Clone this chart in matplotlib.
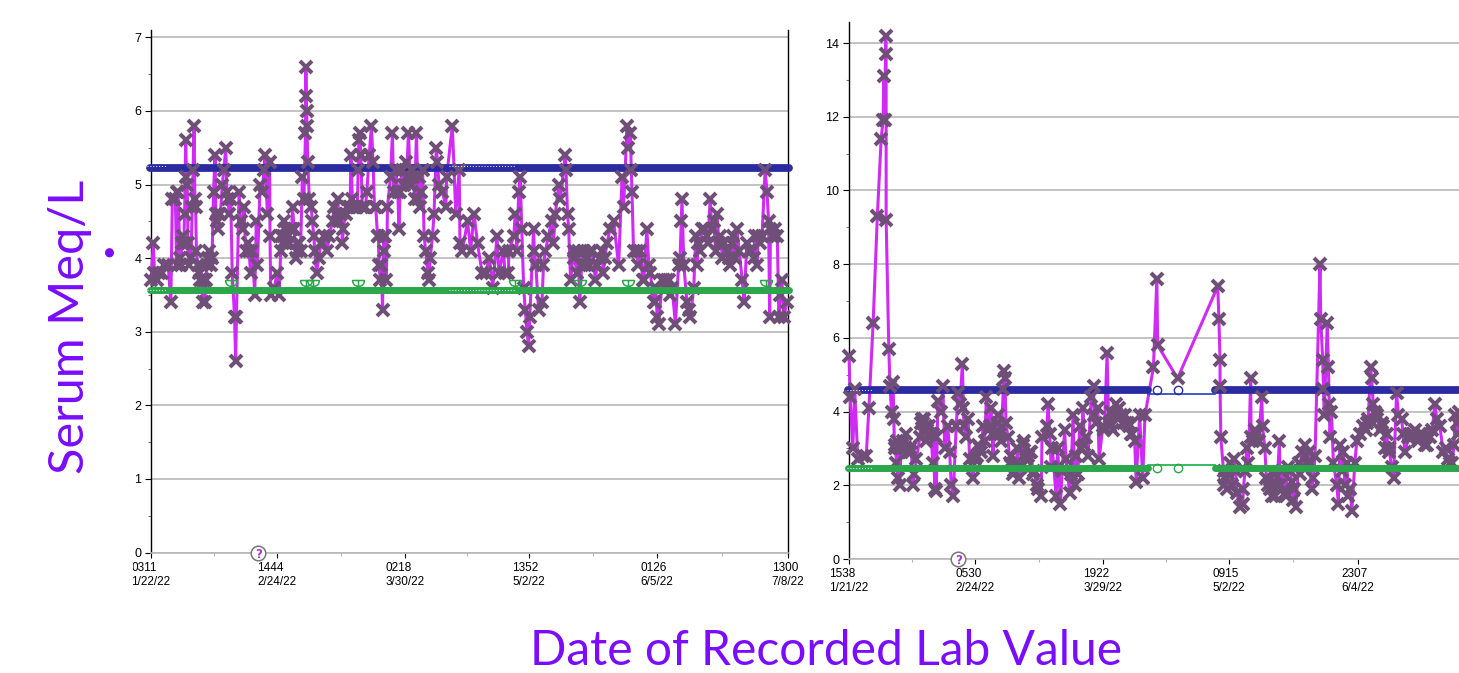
import matplotlib
matplotlib.use("Agg")
import matplotlib.pyplot as plt
from matplotlib.path import Path
from matplotlib.transforms import Bbox

W, H = 1459, 673

# left chart: days since first reading, serum value
left_days = [
    0, 0.6, 0.9, 1.5, 2.2, 3, 3.5, 4.5, 5.2, 5.6,
    6.4, 6.7, 6.9, 7.1, 7.6, 7.9, 8, 8.3, 8.6, 8.8,
    9.1, 9.3, 9.5, 9.7, 10, 10.5, 10.8, 11, 11.3, 11.5,
    11.7, 11.9, 12.2, 12.6, 13, 13.3, 13.6, 13.9, 14.1, 14.4,
    14.7, 15, 15.3, 15.6, 16, 16.4, 16.8, 17, 17.2, 17.5,
    17.8, 18.2, 18.7, 19.1, 19.6, 19.9, 20.2, 20.5, 20.9, 21.3,
    21.9, 22.2, 22.4, 23.1, 23.5, 24, 24.4, 24.8, 25.3, 25.7,
    26.1, 26.6, 27.2, 27.6, 27.9, 28.6, 29.2, 29.6, 29.9, 30.5,
    31.1, 31.2, 31.4, 32.3, 33.1, 33.6, 34, 34.5, 34.9, 35.3,
    35.7, 36.6, 37.1, 37.5, 37.9, 38.8, 39.2, 39.7, 40.1, 40.5,
    40.6, 40.7, 40.8, 40.9, 41.1, 41.5, 42, 42.3, 42.7, 42.9,
    43.4, 44, 44.5, 45.3, 46.2, 46.7, 47.6, 48.1, 48.9, 49.4,
    50.2, 50.4, 51, 51.5, 52.4, 52.8, 54.1, 54.3, 54.5, 54.7,
    55, 55.9, 56.6, 57.2, 57.8, 58.2, 58.6, 59.4, 59.8, 60.1,
    60.7, 61.1, 61.4, 62, 62.8, 63.3, 63.6, 64.2, 65, 65.9,
    66.8, 67.5, 68, 68.5, 69.1, 69.6, 70.2, 70.7, 71.2, 71.6,
    72, 72.6, 72.9, 73.2, 73.8, 74.2, 74.8, 75.1, 75.5, 76.4,
    77.3, 77.5, 79, 79.9, 80.8, 81, 81.6, 83, 83.8, 84.7,
    85.6, 86.8, 87.7, 88.7, 89.6, 90.7, 91.2, 92.4, 92.8, 93.7,
    93.8, 95.1, 95.5, 95.9, 96.4, 96.8, 97.2, 97.7, 98.1, 98.6,
    99, 99.3, 100.3, 100.5, 100.9, 101.6, 102.5, 102.9, 103.4, 104.2,
    105, 105.5, 106, 106.9, 107.3, 108.6, 108.8, 109.2, 109.5, 110,
    110.8, 111.7, 112.4, 113.4, 113.8, 115.2, 116.5, 117.8, 118.6, 119.5,
    120.4, 121.3, 122.6, 123.5, 123.9, 124.8, 125, 125.7, 125.9, 126.1,
    126.5, 127.4, 127.7, 128.3, 129.2, 130, 130.5, 131.8, 132.2, 132.7,
    133.1, 134, 135.3, 136.1, 137.5, 138.3, 138.7, 139, 139.2, 139.7,
    140.5, 141, 141.4, 142.3, 143.1, 144, 144.4, 145.8, 146.6, 147.5,
    148.4, 149.3, 151, 151.9, 152.7, 153.6, 155, 155.5, 156.7, 158,
    158.9, 159.7, 161, 161.5, 161.9, 162.2, 162.8, 163.7, 164.6, 165.4,
    165.9, 166.7,
]
left_vals = [
    3.7, 4.2, 3.8, 3.7, 3.8, 3.8, 3.9, 3.9, 3.4, 4.8,
    4.8, 3.9, 4.9, 4.9, 4.0, 3.9, 4.2, 4.3, 4.2, 4.6,
    5.6, 5.1, 5.0, 4.2, 3.9, 4.0, 4.7, 5.2, 5.8, 4.8,
    4.7, 4.1, 3.9, 3.8, 3.9, 3.7, 3.4, 3.7, 3.4, 3.7,
    3.9, 4.0, 4.1, 3.9, 4.0, 4.9, 5.4, 4.6, 4.5, 4.4,
    4.6, 4.6, 5.0, 5.2, 5.5, 4.9, 4.8, 4.6, 4.8, 3.8,
    3.2, 2.6, 3.2, 4.9, 4.5, 4.4, 4.7, 4.1, 4.2, 4.1,
    3.8, 4.1, 3.5, 4.5, 3.9, 5.0, 4.9, 5.2, 5.4, 4.6,
    5.3, 4.3, 3.5, 3.6, 3.8, 3.5, 4.1, 4.3, 4.5, 4.3,
    4.2, 4.4, 4.7, 4.4, 4.0, 4.2, 4.1, 5.1, 4.8, 5.7,
    6.6, 6.2, 6.0, 5.8, 5.3, 4.8, 4.7, 4.5, 4.3, 4.1,
    3.8, 4.0, 4.2, 4.3, 4.1, 4.3, 4.5, 4.7, 4.8, 4.5,
    4.2, 4.4, 4.6, 4.7, 5.4, 4.8, 4.7, 5.2, 5.6, 5.7,
    5.4, 4.7, 4.9, 5.4, 5.8, 5.3, 4.7, 4.3, 3.9, 3.7,
    3.3, 4.1, 4.3, 4.7, 5.1, 5.7, 4.9, 5.2, 4.4, 5.2,
    5.3, 5.7, 5.0, 5.2, 4.8, 5.7, 5.1, 4.9, 5.2, 4.3,
    4.1, 3.8, 3.7, 4.0, 4.3, 4.6, 5.5, 5.3, 5.0, 4.9,
    4.7, 5.1, 5.8, 4.6, 5.2, 4.2, 4.1, 4.5, 4.1, 4.6,
    4.2, 3.8, 3.8, 4.0, 3.6, 4.3, 3.8, 4.1, 3.8, 3.8,
    4.1, 4.3, 4.6, 4.1, 4.9, 5.1, 4.4, 3.6, 3.3, 3.0,
    2.8, 3.2, 4.4, 4.1, 3.9, 3.3, 3.4, 3.9, 4.1, 4.3,
    4.5, 4.2, 4.6, 5.0, 4.8, 5.4, 5.2, 4.6, 4.4, 3.7,
    4.1, 3.8, 3.4, 4.1, 3.9, 4.1, 3.7, 4.0, 3.8, 4.2,
    4.4, 4.5, 3.9, 5.1, 4.7, 5.8, 5.5, 5.7, 5.2, 4.9,
    4.1, 4.1, 3.9, 4.1, 3.7, 4.4, 3.9, 3.4, 3.4, 3.2,
    3.1, 3.7, 3.7, 3.5, 3.1, 3.9, 4.0, 4.5, 4.8, 3.9,
    3.4, 3.3, 3.2, 3.6, 3.9, 4.1, 4.4, 4.3, 4.8, 4.5,
    4.6, 4.3, 4.1, 3.9, 4.3, 4.4, 3.7, 3.4, 4.1, 4.0,
    3.9, 4.2, 5.2, 4.9, 4.5, 3.2, 4.3, 4.4, 3.2, 3.7,
    3.2, 3.4,
]
# readings inside the dense clumps of the left chart
left_dense_days = [
    34.2, 34.7, 35.1, 35.5, 36, 36.3, 36.9, 38.2, 38.5, 48.4,
    49.8, 51.9, 52.2, 53.3, 53.7, 55.4, 56.2, 58.9, 59.6, 60.4,
    61, 61.7, 64.7, 65.3, 66.2, 67, 68.2, 68.8, 70, 70.4,
    111, 112, 112.9, 114.2, 114.8, 115.7, 116.9, 118.2, 119, 128.9,
    130.9, 132.3, 134.5, 135, 135.8, 136.6, 142.8, 143.5, 145, 146,
    147, 148, 148.9, 149.8, 150.3, 151.5, 152.2, 153, 154.2, 156.2,
    157.2, 158.3, 159.2, 160.2, 162.4, 163.2, 164.2, 165, 12.9, 13.9,
]
left_dense_vals = [
    4.3, 4.2, 4.4, 4.2, 4.3, 4.2, 4.4, 4.1, 4.2, 4.6,
    4.6, 4.7, 4.7, 4.7, 4.7, 4.7, 4.7, 4.7, 4.3, 3.9,
    4.3, 3.7, 4.9, 4.9, 5.0, 5.1, 5.0, 5.1, 4.8, 4.7,
    4.0, 4.1, 3.9, 4.0, 3.9, 4.1, 3.9, 4.1, 4.0, 3.7,
    3.8, 3.6, 3.7, 3.6, 3.7, 3.6, 4.3, 4.2, 4.4, 4.2,
    4.4, 4.1, 4.2, 4.0, 4.2, 4.0, 4.2, 4.0, 4.1, 4.2,
    4.1, 4.3, 4.3, 4.3, 4.4, 4.3, 4.3, 3.5, 3.7, 3.7,
]

# right chart
right_days = [
    0, 0.3, 1, 1.5, 2.3, 3.6, 4.5, 5.2, 6.3, 7.4,
    8.4, 8.9, 9.1, 9.6, 9.7, 9.3, 9.7, 10.4, 10.7, 11.5,
    11.1, 11.7, 11.9, 12.4, 12.8, 13.2, 13.6, 14.5, 15, 15.4,
    16.3, 16.7, 17.1, 17.6, 18.5, 19, 19.3, 19.8, 20.2, 21,
    21.9, 22.4, 22.8, 23.2, 24, 24.5, 25, 25.8, 26.3, 26.7,
    27.2, 28, 28.5, 29, 29.6, 29.9, 30.6, 31.1, 31.5, 32.4,
    32.8, 34.1, 35, 35.9, 37.1, 37.6, 38.4, 38.9, 39.7, 40.5,
    40.7, 40.3, 41, 41.5, 42.4, 42.8, 43.7, 44.5, 45.4, 46.3,
    47.2, 48.4, 49, 49.3, 50.2, 50.4, 52, 51.7, 52.4, 52.8,
    54.1, 54.5, 55.2, 56.3, 56.7, 57.6, 58.5, 59.4, 59.8, 60.2,
    61.1, 61.5, 62.4, 63.3, 63.9, 64.6, 65.3, 66.3, 67.4, 68.1,
    68.9, 69.8, 71.1, 72.4, 73.7, 74.6, 75, 75.9, 76.7, 77.3,
    79.5, 80.4, 80.6, 85.8, 96.3, 96.6, 96.9, 96.9, 97.1, 97.8,
    98, 98.6, 99.5, 100.6, 101.3, 102.1, 102.8, 103, 103.4, 103.9,
    104.3, 104.9, 105.6, 106.5, 107.8, 108, 108.6, 109.5, 110.4, 111.3,
    112.4, 112.6, 113.9, 115.2, 116, 116.7, 117.4, 118.2, 119.1, 119.5,
    120.8, 121.3, 121.7, 123, 123.2, 123.7, 123.9, 124.1, 124.9, 125.2,
    125.4, 125.6, 126.5, 127.4, 127.8, 128.2, 129.1, 129.5, 130.4, 131.3,
    132.1, 132.6, 133.4, 134.3, 135.6, 136.2, 136.5, 136.9, 137.8, 139.1,
    140, 140.9, 141.7, 142.2, 143, 143.5, 144.3, 145.2, 146.1, 147.4,
    149.1, 150.4, 151.7, 153, 153.5, 154.3, 155.2, 157, 158.3, 159.1,
]
right_vals = [
    5.5, 4.4, 3.0, 4.6, 2.7, 2.8, 2.8, 4.1, 6.4, 9.3,
    11.4, 11.9, 13.1, 14.2, 13.7, 11.9, 9.2, 5.7, 4.7, 4.8,
    4.0, 3.8, 3.0, 2.6, 2.2, 2.0, 3.0, 3.0, 3.4, 2.9,
    2.9, 2.0, 2.3, 2.7, 3.3, 3.8, 3.7, 3.5, 3.2, 3.4,
    2.6, 1.9, 1.85, 4.3, 4.0, 4.7, 3.0, 3.6, 2.9, 2.0,
    1.7, 3.6, 4.5, 4.2, 5.3, 4.1, 3.3, 3.8, 2.7, 2.2,
    2.7, 3.0, 3.6, 4.4, 4.1, 2.8, 3.4, 3.9, 3.2, 5.1,
    4.9, 4.6, 3.7, 3.3, 2.8, 2.3, 2.6, 2.2, 3.1, 2.7,
    2.9, 2.4, 2.0, 1.9, 1.7, 3.3, 4.2, 3.6, 3.4, 2.5,
    1.7, 3.0, 1.5, 3.5, 2.7, 1.8, 3.9, 2.8, 2.3, 3.6,
    4.1, 3.1, 2.8, 4.4, 4.7, 3.7, 2.7, 3.6, 5.6, 3.6,
    3.5, 4.2, 3.9, 3.7, 3.4, 3.2, 2.1, 3.9, 2.2, 3.9,
    5.2, 7.6, 5.8, 4.9, 7.4, 6.5, 5.4, 4.7, 3.3, 2.4,
    2.0, 1.9, 2.6, 2.7, 1.8, 1.4, 1.5, 1.9, 2.4, 3.0,
    2.6, 4.9, 3.2, 3.4, 4.4, 3.6, 3.0, 2.0, 1.7, 1.7,
    3.2, 2.0, 1.8, 2.4, 1.6, 1.4, 2.6, 2.9, 3.1, 2.6,
    1.9, 2.2, 2.8, 8.0, 6.5, 5.4, 4.6, 3.9, 6.4, 5.2,
    4.2, 3.3, 2.6, 2.0, 1.5, 3.1, 2.9, 2.0, 1.7, 1.3,
    2.6, 3.2, 3.4, 3.6, 3.8, 5.2, 4.9, 4.2, 3.8, 3.7,
    3.0, 2.9, 2.5, 2.2, 4.5, 3.9, 3.8, 2.9, 3.3, 3.4,
    3.4, 3.1, 3.3, 4.2, 3.8, 3.6, 2.9, 2.6, 3.9, 3.4,
]
# readings inside the dense clumps of the right chart
right_dense_days = [
    12.1, 12.6, 13, 13.9, 14.2, 14.8, 15.7, 16, 18.8, 19.6,
    20, 20.5, 20.8, 21.4, 22, 22.6, 30, 33.3, 33.8, 34.6,
    35.4, 36.3, 36.7, 37.9, 39, 39.4, 42, 43, 44, 45,
    45.8, 46.7, 47.6, 48, 53.1, 55.7, 58, 59, 60.6, 62,
    64, 65, 66.7, 67.8, 68.5, 69.2, 70.2, 70.6, 71.5, 72,
    72.8, 73.2, 74, 98.3, 99, 100, 101, 105, 106, 107,
    109, 110, 110.9, 111.8, 113, 114, 114.6, 115.6, 116.3, 117.8,
    118.6, 120, 120.4, 126, 128.7, 130, 130.9, 134.9, 135.3, 137.3,
    138, 138.6, 139.5, 140.4, 141, 144.7, 146.6, 147, 147.8, 148.5,
    149.6, 150, 151, 152.3, 155.8, 156.4, 157.5, 158, 158.8, 159.2,
]
right_dense_vals = [
    3.1, 3.2, 3.0, 3.1, 3.2, 3.0, 2.9, 3.0, 3.7, 3.8,
    3.6, 3.5, 3.6, 3.4, 3.4, 3.3, 3.6, 2.8, 3.1, 2.9,
    3.2, 3.5, 3.6, 3.4, 3.7, 3.4, 2.6, 2.4, 3.0, 2.5,
    3.2, 2.8, 2.9, 2.3, 3.0, 2.4, 2.3, 2.0, 3.0, 3.3,
    3.9, 4.1, 3.5, 3.7, 4.0, 3.9, 3.8, 4.1, 3.7, 3.9,
    3.7, 3.6, 3.4, 2.2, 2.3, 2.0, 2.4, 3.3, 3.5, 3.2,
    2.2, 1.9, 2.3, 2.0, 2.4, 1.7, 2.5, 2.1, 1.9, 2.3,
    2.5, 2.9, 2.6, 4.0, 2.4, 2.6, 1.9, 3.5, 3.7, 4.0,
    3.9, 3.5, 3.6, 3.4, 3.0, 3.4, 3.4, 3.3, 3.5, 3.2,
    3.4, 3.3, 3.1, 3.5, 3.0, 2.7, 2.6, 3.1, 3.7, 4.0,
]

left_limits = (5.23, 3.57)
right_limits = (4.58, 2.46)
left_cup_days = [21, 40.6, 42.5, 54.3, 95.5, 112.5, 125, 161.2]

left_tick_days = [0, 33, 66.6, 99, 132.6, 167]
left_tick_labels = ["0311\n1/22/22", "1444\n2/24/22", "0218\n3/30/22", "1352\n5/2/22", "0126\n6/5/22", "1300\n7/8/22"]
right_tick_days = [0, 32.9, 66.3, 99.2, 132.9]
right_tick_labels = ["1538\n1/21/22", "0530\n2/24/22", "1922\n3/29/22", "0915\n5/2/22", "2307\n6/4/22"]

LINE = "#cf2bf5"
CROSS = "#6f4f77"
BLUE = "#2a2ba0"
GREEN = "#2ba64a"
GRID = "#b8b8b8"
TITLE = "#7a0cff"
BAND_BLUE = 5.6
BAND_GREEN = 5.0
CROSS_SIZE = 9.2
CROSS_WIDTH = 2.9


def merge(days, vals, more_days, more_vals):
    pairs = sorted(zip(days + more_days, vals + more_vals), key=lambda p: p[0])
    return [p[0] for p in pairs], [p[1] for p in pairs]


def make_axes(fig, x0, x1, ytop, ybot):
    ax = fig.add_axes([x0 / W, 1 - ybot / H, (x1 - x0) / W, (ybot - ytop) / H])
    ax.patch.set_alpha(0)
    return ax


def style_axes(ax, xmax, ymax, yticks, yminor, tick_days, tick_labels):
    ax.set_xlim(0, xmax)
    ax.set_ylim(0, ymax)
    ax.set_yticks(yticks)
    ax.set_yticks(yminor, minor=True)
    ax.set_xticks(tick_days)
    ax.set_xticklabels(tick_labels, fontsize=8.5, family="Liberation Sans", linespacing=1.25, multialignment="left")
    mids = [(a + b) / 2 for a, b in zip(tick_days[:-1], tick_days[1:])]
    ax.set_xticks(mids, minor=True)
    ax.tick_params(axis="y", which="major", length=4, width=0.8, labelsize=9, pad=3)
    ax.tick_params(axis="y", which="minor", length=2, width=0.8, color="#777777")
    ax.tick_params(axis="x", which="major", length=3.5, width=0.8, pad=3)
    ax.tick_params(axis="x", which="minor", length=2, width=0.8, color=GRID)
    for lab in ax.get_yticklabels():
        lab.set_family("Liberation Sans")
    ax.grid(axis="y", which="major", color=GRID, linewidth=1.2, zorder=0)
    ax.set_axisbelow(True)
    ax.spines["top"].set_visible(False)
    ax.spines["right"].set_visible(False)
    ax.spines["bottom"].set_color(GRID)
    ax.spines["bottom"].set_linewidth(1.2)
    ax.spines["left"].set_linewidth(1.0)


def question_mark(ax, day):
    ax.plot([day], [0], marker="o", ms=10.5, mfc="white", mec="#777777", mew=1.1, clip_on=False, zorder=8)
    ax.annotate("?", (day, 0), ha="center", va="center_baseline", fontsize=8.5, fontweight="bold",
                color="#a53cc8", family="DejaVu Sans", annotation_clip=False, zorder=9)


def draw_band(ax, x_pair, y, color, width, zorder):
    ax.plot(x_pair, [y, y], color=color, linewidth=width, solid_capstyle="round", zorder=zorder, clip_on=False)


plt.rcParams["font.family"] = "Liberation Sans"
fig = plt.figure(figsize=(W / 100, H / 100), dpi=100, facecolor="white")

# left panel
ax1 = make_axes(fig, 151, 788, 30, 552.5)
style_axes(ax1, 167, 7.1, list(range(8)), [i + 0.5 for i in range(7)], left_tick_days, left_tick_labels)
ax1.spines["right"].set_visible(True)
ax1.spines["right"].set_linewidth(1.0)
hi, lo = left_limits
x1, y1 = merge(left_days, left_vals, left_dense_days, left_dense_vals)
ax1.plot(x1, y1, color=LINE, linewidth=2.2, zorder=3, clip_on=False)
draw_band(ax1, [-0.3, 167.3], hi, BLUE, BAND_BLUE, 4)
ax1.plot(x1, y1, linestyle="none", marker="x", ms=CROSS_SIZE, mew=CROSS_WIDTH, color=CROSS, zorder=5, clip_on=False)
draw_band(ax1, [-0.3, 167.3], lo, GREEN, BAND_GREEN, 6)
for seg in ([-1.0, 4], [78, 95.5]):
    ax1.plot(seg, [hi + 0.02] * 2, color="white", linewidth=0.7, linestyle=(0, (1, 2)), zorder=7, clip_on=False)
    ax1.plot(seg, [lo] * 2, color="white", linewidth=0.7, linestyle=(0, (1, 2)), zorder=7, clip_on=False)
cup = Path.make_compound_path(Path.arc(180, 360), Path([(-1, 0), (1, 0)]), Path([(0, -1), (0, 0)]))
ax1.plot(left_cup_days, [3.7] * len(left_cup_days), linestyle="none", marker=cup, ms=8.6, mfc="none", mec=GREEN, mew=1.1, zorder=6)
question_mark(ax1, 28.1)

# right panel
ax2 = make_axes(fig, 849, 1459, 22, 559)
style_axes(ax2, 159.3, 14.57, list(range(0, 15, 2)), list(range(1, 15, 2)), right_tick_days, right_tick_labels)
hi, lo = right_limits
x2, y2 = merge(right_days, right_vals, right_dense_days, right_dense_vals)
ax2.plot(x2, y2, color=LINE, linewidth=2.2, zorder=3, clip_on=False)
draw_band(ax2, [-0.3, 78], hi, BLUE, BAND_BLUE, 4)
draw_band(ax2, [95.5, 162], hi, BLUE, BAND_BLUE, 4)
ax2.plot([78, 95.5], [hi - 0.09, hi - 0.09], color="#2040c0", linewidth=1.2, zorder=4)
ax2.plot([80.4, 85.8], [hi, hi], linestyle="none", marker="o", ms=6, mfc="none", mec=BLUE, mew=1.0, zorder=4)
ax2.plot(x2, y2, linestyle="none", marker="x", ms=CROSS_SIZE, mew=CROSS_WIDTH, color=CROSS, zorder=5, clip_on=False)
draw_band(ax2, [-0.3, 78], lo, GREEN, BAND_GREEN, 6)
draw_band(ax2, [95.5, 162], lo, GREEN, BAND_GREEN, 6)
ax2.plot([78, 95.5], [lo + 0.08, lo + 0.08], color="#10b040", linewidth=1.2, zorder=6)
ax2.plot([80.4, 85.8], [lo, lo], linestyle="none", marker="o", ms=6, mfc="none", mec=GREEN, mew=1.0, zorder=6)
for y in (hi, lo):
    ax2.plot([-0.5, 6], [y, y], color="white", linewidth=0.7, linestyle=(0, (1, 2)), zorder=7, clip_on=False)
question_mark(ax2, 28.5)

# first left tick label is cut off in the source screenshot
first = ax1.get_xticklabels()[0]
first.set_clip_box(Bbox([[132.5, 0], [300, H]]))
first.set_clip_on(True)

fig.text(70 / W, 1 - 327 / H, "Serum Meq/L", rotation=90, ha="center", va="center", fontsize=35, color=TITLE, family="Lato")
fig.text(108 / W, 1 - 250 / H, "\u2022", rotation=90, ha="center", va="center", fontsize=18, color=TITLE, family="Lato")
fig.text(826 / W, 1 - 651 / H, "Date of Recorded Lab Value", ha="center", va="center", fontsize=34.6, color=TITLE, family="Lato")

fig.savefig("out.png", dpi=100, facecolor="white")
